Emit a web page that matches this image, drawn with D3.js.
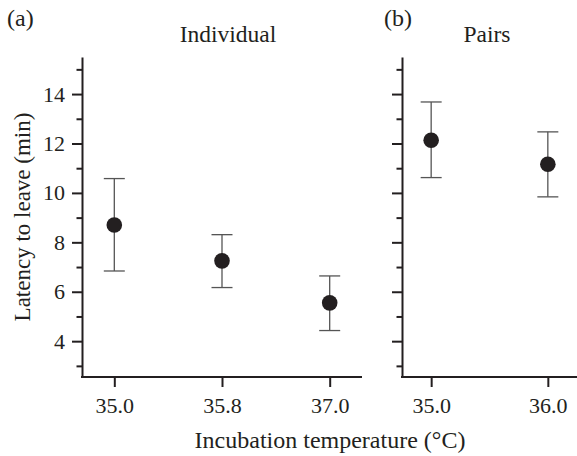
<!DOCTYPE html>
<html lang="en">
  <head>
    <meta charset="utf-8"/>
    <title>Latency to leave</title>
    <script src="https://cdn.jsdelivr.net/npm/d3@7"></script>
    <style>
      body { margin: 0; background: #fff; }
      svg text { font-family: "Liberation Serif", "Times New Roman", serif; fill: #231f20; }
      .axis path, .axis line { stroke: #231f20; stroke-width: 2; }
      .err { stroke: #555; stroke-width: 1.3; }
    </style>
  </head>
  <body>
    <div id="chart"></div>
    <script>
      // panel (a): individual
      var indivTemps = ["35.0", "35.8", "37.0"];
      var indivMean  = [8.70, 7.25, 5.55];
      var indivLow   = [6.84, 6.17, 4.43];
      var indivHigh  = [10.58, 8.31, 6.64];

      // panel (b): pairs
      var pairTemps = ["35.0", "36.0"];
      var pairMean  = [12.13, 11.16];
      var pairLow   = [10.62, 9.84];
      var pairHigh  = [13.68, 12.47];

      var majorTicks = [4, 6, 8, 10, 12, 14];
      var minorTicks = [3, 5, 7, 9, 11, 13, 15];

      var serif = "'Liberation Serif', 'Times New Roman', serif";
      var w = 577, h = 456;
      var plotTop = 57, plotBottom = 377;

      var svg = d3.select("#chart").append("svg")
        .attr("width", w)
        .attr("height", h)
        .attr("font-family", serif);

      var y = d3.scaleLinear().domain([2.55, 15.5]).range([plotBottom, plotTop]);

      function panel(opts) {
        var x = d3.scalePoint()
          .domain(opts.temps)
          .range([opts.x0, opts.x1])
          .padding(opts.pad);

        var g = svg.append("g");

        // minor y ticks
        g.append("g")
          .attr("class", "axis")
          .attr("transform", "translate(" + opts.x0 + ",0)")
          .call(d3.axisLeft(y).tickValues(minorTicks).tickSize(5.5).tickFormat(""))
          .call(function(s) { s.select(".domain").remove(); });

        // major y ticks + domain
        var ya = g.append("g")
          .attr("class", "axis")
          .attr("transform", "translate(" + opts.x0 + ",0)")
          .call(d3.axisLeft(y).tickValues(majorTicks).tickSize(10).tickSizeOuter(0).tickPadding(7)
            .tickFormat(opts.labels ? d3.format("d") : ""));
        ya.attr("font-family", serif).attr("font-size", 22);

        // x axis
        var xa = g.append("g")
          .attr("class", "axis")
          .attr("transform", "translate(0," + plotBottom + ")")
          .call(d3.axisBottom(x).tickSize(10).tickSizeOuter(0).tickPadding(10));
        xa.attr("font-family", serif).attr("font-size", 22);
        xa.select(".domain").attr("d", "M" + (opts.x0 - 1) + ",0H" + opts.x1);

        // error bars
        var data = opts.temps.map(function(t, i) {
          return { t: t, m: opts.mean[i], lo: opts.low[i], hi: opts.high[i] };
        });
        var eb = g.selectAll(".eb").data(data).enter().append("g");
        eb.append("line").attr("class", "err")
          .attr("x1", function(d) { return x(d.t); })
          .attr("x2", function(d) { return x(d.t); })
          .attr("y1", function(d) { return y(d.lo); })
          .attr("y2", function(d) { return y(d.hi); });
        ["lo", "hi"].forEach(function(k) {
          eb.append("line").attr("class", "err")
            .attr("x1", function(d) { return x(d.t) - 10.5; })
            .attr("x2", function(d) { return x(d.t) + 10.5; })
            .attr("y1", function(d) { return y(d[k]); })
            .attr("y2", function(d) { return y(d[k]); });
        });
        eb.append("circle")
          .attr("cx", function(d) { return x(d.t); })
          .attr("cy", function(d) { return y(d.m); })
          .attr("r", 7.8)
          .attr("fill", "#231f20");

        // panel letter and title
        svg.append("text").attr("x", opts.letterX).attr("y", 26)
          .attr("font-size", 24).text(opts.letter);
        svg.append("text").attr("x", opts.titleX).attr("y", 42)
          .attr("text-anchor", "middle")
          .attr("font-size", 23.5).text(opts.title);
      }

      panel({ temps: indivTemps, mean: indivMean, low: indivLow, high: indivHigh,
              x0: 82, x1: 362, pad: 0.3, labels: true,
              letter: "(a)", letterX: 7, title: "Individual", titleX: 228 });
      panel({ temps: pairTemps, mean: pairMean, low: pairLow, high: pairHigh,
              x0: 402, x1: 577, pad: 0.25, labels: false,
              letter: "(b)", letterX: 384, title: "Pairs", titleX: 487 });

      // axis titles
      svg.append("text")
        .attr("transform", "translate(30," + ((plotTop + plotBottom) / 2) + ")rotate(-90)")
        .attr("text-anchor", "middle")
        .attr("font-size", 23)
        .text("Latency to leave (min)");

      svg.append("text")
        .attr("x", 330).attr("y", 448)
        .attr("text-anchor", "middle")
        .attr("font-size", 24)
        .text("Incubation temperature (°C)");
    </script>
  </body>
</html>
